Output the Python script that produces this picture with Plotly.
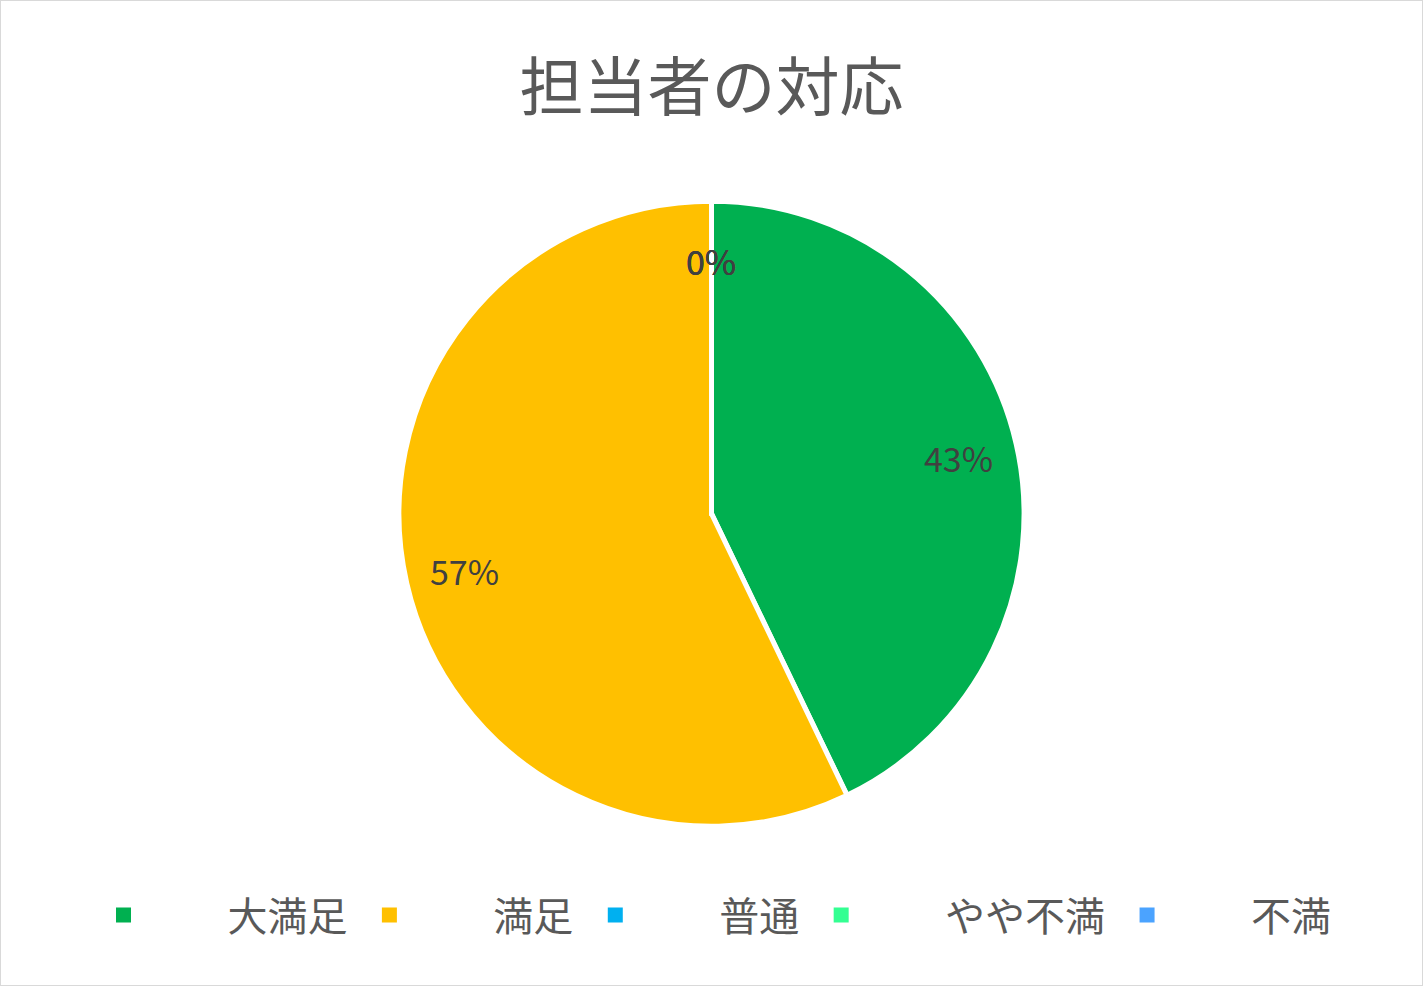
import math
import plotly.graph_objects as go

# 担当者の対応 (回答数)
labels = ["大満足", "満足", "普通", "やや不満", "不満"]
values = [3, 4, 0, 0, 0]
colors = ["#00B050", "#FFC000", "#00B0F0", "#33FF92", "#4BA3FF"]

jp_font = "Noto Sans CJK JP"
W, H = 1423, 986
pie_y = [0.162, 0.796]

fig = go.Figure()

fig.add_trace(
    go.Pie(
        labels=labels,
        values=values,
        sort=False,
        direction="clockwise",
        rotation=0,
        marker=dict(colors=colors, line=dict(color="white", width=5)),
        textinfo="none",
        domain=dict(x=[0, 1], y=pie_y),
        hoverinfo="label+value+percent",
        showlegend=False,
    )
)

# legend entries with square markers, text pushed right like the Excel legend
pad = "\u3000" + "\u00a0" * 3
for name, col in zip(labels, colors):
    fig.add_trace(
        go.Scatter(
            x=[None],
            y=[None],
            mode="markers",
            name=pad + name,
            marker=dict(symbol="square", size=15, color=col),
        )
    )

# percent labels placed like Excel's data labels
total = sum(values)
radius = min(W, H * (pie_y[1] - pie_y[0])) / 2
yc = (pie_y[0] + pie_y[1]) / 2
cum = 0
annotations = []
for v in values:
    ang = 2 * math.pi * (cum + v / 2) / total
    cum += v
    r = 0.81 * radius
    annotations.append(
        dict(
            x=0.5 + r * math.sin(ang) / W,
            y=yc + r * math.cos(ang) / H,
            xref="paper",
            yref="paper",
            xanchor="center",
            yanchor="middle",
            text=f"{round(100 * v / total)}%",
            showarrow=False,
            font=dict(family=jp_font, size=34, color="#404040"),
        )
    )

fig.update_layout(
    width=W,
    height=H,
    margin=dict(l=0, r=0, t=0, b=0),
    paper_bgcolor="white",
    plot_bgcolor="white",
    xaxis=dict(visible=False),
    yaxis=dict(visible=False),
    title=dict(
        text="担当者の対応",
        x=0.5,
        xanchor="center",
        y=0.911,
        yanchor="middle",
        font=dict(family=jp_font, size=64, color="#595959"),
    ),
    legend=dict(
        orientation="h",
        x=0.5,
        xanchor="center",
        y=0.072,
        yanchor="middle",
        itemwidth=64,
        itemsizing="trace",
        font=dict(family=jp_font, size=40, color="#595959"),
        traceorder="normal",
    ),
    annotations=annotations,
    shapes=[
        dict(
            type="rect",
            xref="paper",
            yref="paper",
            x0=0,
            x1=1,
            y0=0,
            y1=1,
            line=dict(color="#D9D9D9", width=2),
        )
    ],
)

fig.write_html(
    "out.html",
    config={"displayModeBar": False},
    post_script="document.body.style.margin = '0';",
)
